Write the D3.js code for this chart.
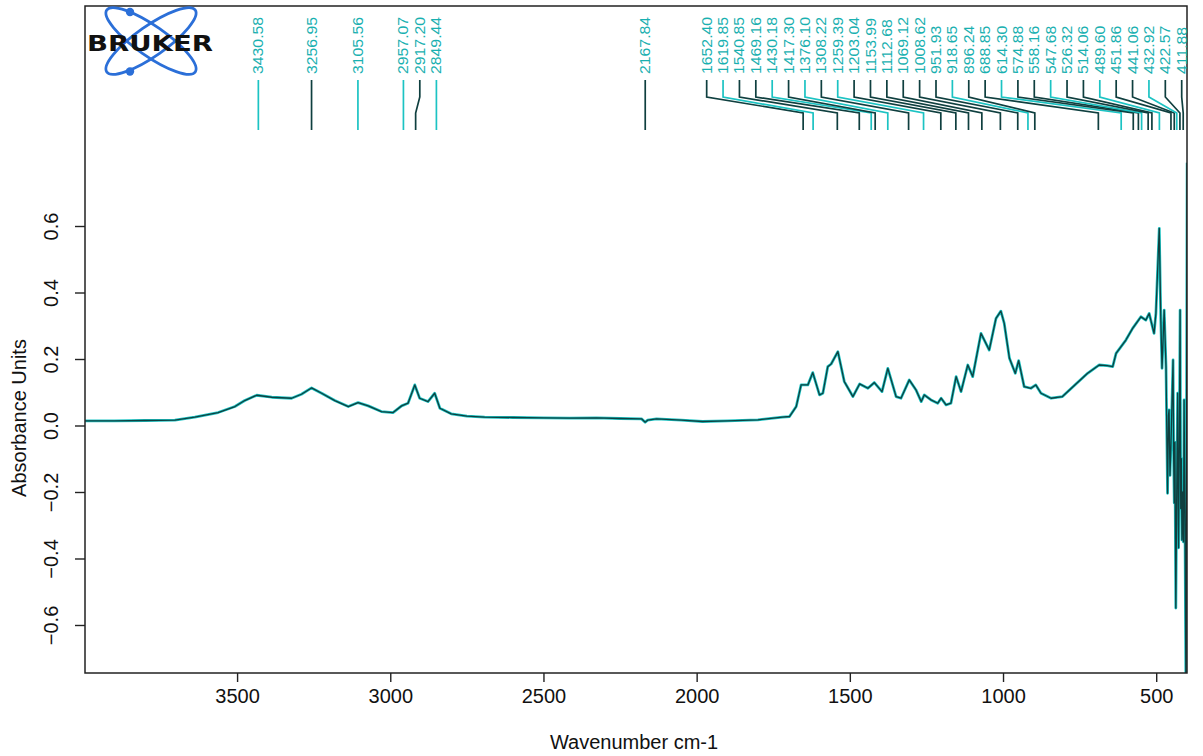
<!DOCTYPE html>
<html>
<head>
<meta charset="utf-8">
<script src="https://cdn.jsdelivr.net/npm/d3@7"></script>
<style>
  html, body { margin: 0; padding: 0; background: #fff; }
  svg { display: block; font-family: "Liberation Sans", Arial, Helvetica, sans-serif; }
</style>
</head>
<body>
<svg id="chart" width="1203" height="756"></svg>
<script>
// IR absorbance spectrum (wavenumber in cm-1, descending)
const wavenumber = [
  3996, 3900, 3800, 3703, 3638, 3562, 3507, 3475, 3436, 3387, 3322, 3290, 3257, 3224,
  3181, 3137, 3105, 3072, 3029, 2991, 2963, 2942, 2920, 2904, 2877, 2855, 2838, 2801,
  2750, 2692, 2600, 2500, 2415, 2327, 2250, 2180, 2168, 2160, 2131, 2050, 1981, 1900,
  1800, 1720, 1697, 1675, 1659, 1637, 1621, 1599, 1588, 1572, 1561, 1539, 1518, 1490,
  1468, 1441, 1420, 1395, 1376, 1349, 1333, 1306, 1284, 1267, 1257, 1235, 1213, 1202,
  1186, 1170, 1153, 1137, 1115, 1099, 1072, 1045, 1023, 1007, 996, 979, 960, 949,
  931, 909, 893, 876, 843, 806, 762, 724, 686, 660, 642, 631, 599, 577, 550, 534,
  523, 507, 501, 490, 485, 481, 474, 468, 463, 460, 458, 455, 452, 449, 445, 443,
  441, 439, 436, 433, 430, 428, 427, 425, 422, 420, 418, 416, 413, 411, 409, 406,
  403, 399
];
const absorbance = [
  0.014, 0.014, 0.015, 0.016, 0.025, 0.039, 0.057, 0.075, 0.091, 0.085, 0.082, 0.094, 0.113, 0.097,
  0.075, 0.057, 0.069, 0.059, 0.042, 0.039, 0.059, 0.067, 0.122, 0.082, 0.072, 0.097, 0.052, 0.035,
  0.028, 0.025, 0.024, 0.023, 0.022, 0.023, 0.021, 0.020, 0.010, 0.016, 0.020, 0.016, 0.012, 0.014,
  0.017, 0.025, 0.027, 0.057, 0.122, 0.122, 0.159, 0.092, 0.097, 0.177, 0.185, 0.222, 0.132, 0.087,
  0.125, 0.112, 0.129, 0.102, 0.172, 0.087, 0.082, 0.137, 0.107, 0.072, 0.092, 0.077, 0.067, 0.082,
  0.062, 0.067, 0.147, 0.102, 0.182, 0.147, 0.277, 0.227, 0.322, 0.344, 0.307, 0.202, 0.157, 0.195,
  0.117, 0.112, 0.122, 0.097, 0.082, 0.087, 0.125, 0.157, 0.182, 0.180, 0.177, 0.217, 0.257, 0.292, 0.327, 0.317,
  0.337, 0.277, 0.337, 0.593, 0.320, 0.172, 0.347, 0.177, -0.204, 0.030, 0.047, -0.150, -0.064, 0.050, 0.197, -0.100,
  -0.233, -0.050, -0.549, -0.200, 0.097, -0.300, -0.368, -0.100, 0.347, -0.250, -0.100, -0.344, -0.200, -0.350, 0.077, -0.300,
  -0.800, 0.790
];

// Picked peaks; pickSet tells which of the two overlaid traces the pick belongs to
const peakLabels = [
  "3430.58", "3256.95", "3105.56", "2957.07", "2917.20", "2849.44", "2167.84",
  "1652.40", "1619.85", "1540.85", "1469.16", "1430.18", "1417.30", "1376.10", "1308.22",
  "1259.39", "1203.04", "1153.99", "1112.68", "1069.12", "1008.62", "951.93", "918.65",
  "896.24", "688.85", "614.30", "574.88", "558.16", "547.68", "526.32", "514.06",
  "489.60", "451.86", "441.06", "432.92", "422.57", "411.88"
];
const pickSet = [
  "A", "B", "A", "A", "B", "A", "B",
  "B", "A", "B", "B", "A", "B", "A", "B",
  "A", "B", "B", "B", "B", "B", "B", "A",
  "B", "B", "A", "B", "B", "A", "B", "B",
  "A", "B", "B", "A", "B", "B"
];

const xTicks = [3500, 3000, 2500, 2000, 1500, 1000, 500];
const yTicks = [-0.6, -0.4, -0.2, 0.0, 0.2, 0.4, 0.6];

const svg = d3.select("#chart");
const frame = { left: 85, right: 1187, top: 6, bottom: 673 };

const x = d3.scaleLinear().domain([3996.4, 399.5]).range([frame.left, frame.right]);
const y = d3.scaleLinear().domain([1.2617, -0.7444]).range([frame.top, frame.bottom]);

const cyan = "#1cc3c3";
const dark = "#0f3f3f";
const setColor = d3.scaleOrdinal().domain(["A", "B"]).range([cyan, dark]);

svg.append("defs").append("clipPath").attr("id", "plotClip")
  .append("rect")
  .attr("x", frame.left).attr("y", frame.top)
  .attr("width", frame.right - frame.left).attr("height", frame.bottom - frame.top);

// Spectrum: two overlaid traces
const pts = wavenumber.map((w, i) => [w, absorbance[i]]);
const line = d3.line().x(d => x(d[0])).y(d => y(d[1]));
const traces = svg.append("g").attr("clip-path", "url(#plotClip)");
traces.append("path").datum(pts).attr("d", line)
  .attr("fill", "none").attr("stroke", cyan).attr("stroke-width", 2.8)
  .attr("stroke-linejoin", "round");
traces.append("path").datum(pts).attr("d", line)
  .attr("fill", "none").attr("stroke", dark).attr("stroke-width", 1.3)
  .attr("stroke-linejoin", "round");

// Axes
const xAxis = d3.axisBottom(x).tickValues(xTicks).tickSize(9).tickPadding(7)
  .tickFormat(d3.format("d"));
const gx = svg.append("g").attr("transform", `translate(0,${frame.bottom})`).call(xAxis);
gx.select(".domain").remove();
gx.selectAll(".tick line").attr("stroke", "#222").attr("stroke-width", 1.4);
gx.selectAll(".tick text").attr("font-size", 20).attr("fill", "#111")
  .attr("font-family", "Liberation Sans, Arial, sans-serif");

const yAxis = d3.axisLeft(y).tickValues(yTicks).tickSize(10).tickFormat(d3.format(".1f"));
const gy = svg.append("g").attr("transform", `translate(${frame.left},0)`).call(yAxis);
gy.select(".domain").remove();
gy.selectAll(".tick line").attr("stroke", "#222").attr("stroke-width", 1.4);
gy.selectAll(".tick text")
  .attr("x", null).attr("dy", null)
  .attr("text-anchor", "middle")
  .attr("transform", "translate(-27,0) rotate(-90)")
  .attr("font-size", 20).attr("fill", "#111")
  .attr("font-family", "Liberation Sans, Arial, sans-serif");

// Frame
svg.append("rect")
  .attr("x", frame.left).attr("y", frame.top)
  .attr("width", frame.right - frame.left).attr("height", frame.bottom - frame.top)
  .attr("fill", "none").attr("stroke", "#222").attr("stroke-width", 1.5);

// Axis titles
svg.append("text").attr("x", 634).attr("y", 749)
  .attr("text-anchor", "middle").attr("font-size", 20).attr("fill", "#111")
  .text("Wavenumber cm-1");
svg.append("text")
  .attr("transform", "translate(26,418) rotate(-90)")
  .attr("text-anchor", "middle").attr("font-size", 20).attr("fill", "#111")
  .text("Absorbance Units");

// Peak label layout: keep a minimum spacing, bounded by the right frame edge
const gap = 16.38;
const rightBound = frame.right - 5.3;
const peaks = peakLabels.map((t, i) => ({ label: t, wn: +t, set: pickSet[i], px: x(+t) }))
  .sort((a, b) => a.px - b.px);
peaks.forEach((p, i) => { p.lx = i === 0 ? p.px : Math.max(p.px, peaks[i - 1].lx + gap); });
for (let i = peaks.length - 1; i >= 0; i--) {
  const lim = i === peaks.length - 1 ? rightBound : peaks[i + 1].lx - gap;
  peaks[i].lx = Math.min(peaks[i].lx, lim);
}

const picks = svg.append("g");
picks.selectAll("path").data(peaks).join("path")
  .attr("d", p => `M${p.lx},80V97L${p.px},113V130`)
  .attr("fill", "none")
  .attr("stroke", p => setColor(p.set))
  .attr("stroke-width", 1.7);

picks.selectAll("text").data(peaks).join("text")
  .attr("transform", p => `translate(${p.lx},74) rotate(-90) scale(1.13,1)`)
  .attr("dy", "0.36em")
  .attr("font-size", 14)
  .attr("fill", "#19b0b0")
  .text(p => p.label);

// Manufacturer mark
const logo = svg.append("g");
[35, -35].forEach(a => {
  logo.append("ellipse")
    .attr("cx", 151).attr("cy", 41).attr("rx", 54).attr("ry", 15)
    .attr("transform", `rotate(${a},151,41)`)
    .attr("fill", "none").attr("stroke", "#2b6fd8").attr("stroke-width", 2.8);
});
logo.append("circle").attr("cx", 130).attr("cy", 12).attr("r", 4.2).attr("fill", "#2b6fd8");
logo.append("circle").attr("cx", 130).attr("cy", 71.5).attr("r", 4.2).attr("fill", "#2b6fd8");
logo.append("text").attr("x", 87).attr("y", 51)
  .attr("font-size", 21).attr("font-weight", "bold").attr("fill", "#111")
  .attr("textLength", 126).attr("lengthAdjust", "spacingAndGlyphs")
  .attr("font-family", "DejaVu Sans, Liberation Sans, sans-serif")
  .text("BRUKER");
</script>
</body>
</html>
